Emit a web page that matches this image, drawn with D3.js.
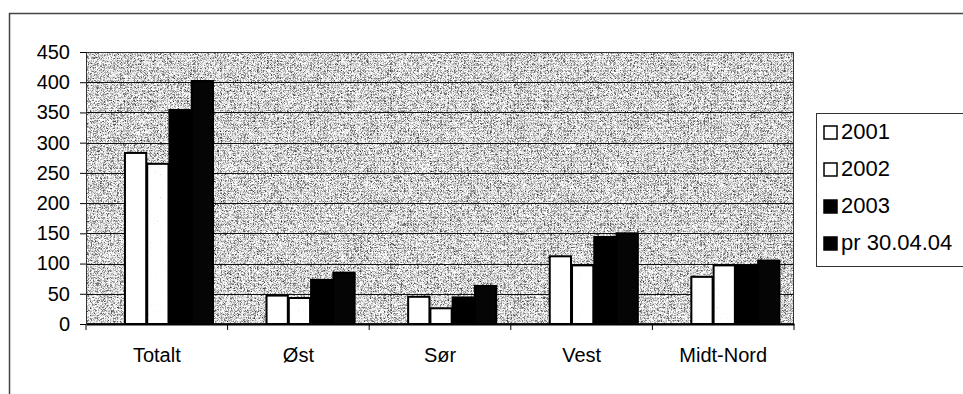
<!DOCTYPE html>
<meta charset="utf-8">
<script src="https://d3js.org/d3.v7.min.js"></script>
<style>
  body { margin: 0; background: #fff; }
  text { font-family: "Liberation Sans", Arial, sans-serif; }
</style>
<div id="my_dataviz"></div>
<script>

// data
var categories = ["Totalt", "Øst", "Sør", "Vest", "Midt-Nord"];
var series = ["2001", "2002", "2003", "pr 30.04.04"];
var v2001 = [283, 47, 45, 112, 78];
var v2002 = [265, 43, 26, 97, 97];
var v2003 = [354, 73, 44, 144, 97];
var vPr   = [402, 85, 63, 150, 105];
var yTicks = [0, 50, 100, 150, 200, 250, 300, 350, 400, 450];

var values = [v2001, v2002, v2003, vPr];

var width = 963, height = 394;
var plot = {left: 86, right: 794, top: 52, bottom: 324};

var svg = d3.select("#my_dataviz")
  .append("svg")
    .attr("width", width)
    .attr("height", height);

// pixel stipple texture for the plot area
var defs = svg.append("defs");
var f = defs.append("filter").attr("id", "stipple")
  .attr("x", 0).attr("y", 0).attr("width", 1).attr("height", 1)
  .attr("color-interpolation-filters", "sRGB");
f.append("feTurbulence").attr("type", "turbulence")
  .attr("baseFrequency", 1.3).attr("numOctaves", 2).attr("seed", 3).attr("result", "n");
f.append("feColorMatrix").attr("type", "matrix").attr("in", "n")
  .attr("values", "0 0 0 1 0  0 0 0 1 0  0 0 0 1 0  0 0 0 0 1").attr("result", "g");
var ct = f.append("feComponentTransfer").attr("in", "g");
["feFuncR", "feFuncG", "feFuncB"].forEach(function(k) {
  ct.append(k).attr("type", "discrete").attr("tableValues", "1 0.88 0.68 0.48 0.3 0.15 0.05");
});

// light speckle for the 2002 bars
var f2 = defs.append("filter").attr("id", "speck")
  .attr("x", 0).attr("y", 0).attr("width", 1).attr("height", 1)
  .attr("color-interpolation-filters", "sRGB");
f2.append("feTurbulence").attr("type", "turbulence")
  .attr("baseFrequency", 1.3).attr("numOctaves", 2).attr("seed", 9).attr("result", "n");
f2.append("feColorMatrix").attr("type", "matrix").attr("in", "n")
  .attr("values", "0 0 0 1 0  0 0 0 1 0  0 0 0 1 0  0 0 0 0 1").attr("result", "g");
var ct2 = f2.append("feComponentTransfer").attr("in", "g");
["feFuncR", "feFuncG", "feFuncB"].forEach(function(k) {
  ct2.append(k).attr("type", "discrete").attr("tableValues", "1 1 1 1 0.96 0.85 0.7");
});

// outer chart frame
svg.append("path")
  .attr("d", "M9.5," + height + "V13.5H" + width)
  .attr("fill", "none").attr("stroke", "#444").attr("stroke-width", 1.5);

// scales
var x0 = d3.scaleBand().domain(categories).range([plot.left, plot.right]);
var x1 = d3.scaleBand().domain(series)
  .range([x0.bandwidth() * 0.268, x0.bandwidth() * 0.897]);
var y = d3.scaleLinear().domain([0, 450]).range([plot.bottom, plot.top]);

// plot background
svg.append("rect")
  .attr("x", plot.left).attr("y", plot.top)
  .attr("width", plot.right - plot.left).attr("height", plot.bottom - plot.top)
  .attr("fill", "#999")
  .attr("filter", "url(#stipple)");

// gridlines
svg.append("g").selectAll("line")
  .data(yTicks.filter(function(d) { return d > 0; }))
  .enter().append("line")
    .attr("x1", plot.left).attr("x2", plot.right)
    .attr("y1", function(d) { return Math.round(y(d)) + 0.5; })
    .attr("y2", function(d) { return Math.round(y(d)) + 0.5; })
    .attr("stroke", "#111").attr("stroke-width", 1.2);

// plot border
svg.append("rect")
  .attr("x", plot.left + 0.5).attr("y", plot.top + 0.5)
  .attr("width", plot.right - plot.left - 1).attr("height", plot.bottom - plot.top - 1)
  .attr("fill", "none").attr("stroke", "#333").attr("stroke-width", 1);

// y axis
var yAxis = svg.append("g")
  .attr("transform", "translate(" + plot.left + ",0)")
  .call(d3.axisLeft(y).tickValues(yTicks).tickSize(6).tickPadding(10));
yAxis.select(".domain").remove();
yAxis.selectAll("line").attr("stroke", "#000");
yAxis.selectAll("text")
  .attr("font-size", 20).attr("fill", "#000")
  .attr("font-family", "'Liberation Sans', Arial, sans-serif");

// x axis
var xAxis = svg.append("g")
  .attr("transform", "translate(0," + plot.bottom + ")")
  .call(d3.axisBottom(x0).tickSize(0).tickPadding(24));
xAxis.select(".domain").attr("stroke", "#000").attr("stroke-width", 2);
xAxis.selectAll("text")
  .attr("font-size", 20).attr("fill", "#000")
  .attr("font-family", "'Liberation Sans', Arial, sans-serif");
svg.append("g").selectAll("line")
  .data(categories.concat(["end"]))
  .enter().append("line")
    .attr("x1", function(d, i) { return i < categories.length ? x0(d) : plot.right; })
    .attr("x2", function(d, i) { return i < categories.length ? x0(d) : plot.right; })
    .attr("y1", plot.bottom).attr("y2", plot.bottom + 6)
    .attr("stroke", "#000");

// bars
var fills = ["#ffffff", "#fbfbfb", "#000000", "#050505"];
var rows = [];
categories.forEach(function(c, i) {
  series.forEach(function(s, j) {
    rows.push({cat: c, ser: s, idx: j, val: values[j][i]});
  });
});

svg.append("g").selectAll("rect")
  .data(rows)
  .enter().append("rect")
    .attr("x", function(d) { return x0(d.cat) + x1(d.ser) + 1; })
    .attr("y", function(d) { return y(d.val); })
    .attr("width", x1.bandwidth() - 1)
    .attr("height", function(d) { return y(0) - y(d.val); })
    .attr("fill", function(d) { return fills[d.idx]; })
    .attr("filter", function(d) { return d.idx === 1 ? "url(#speck)" : null; });

svg.append("g").selectAll("rect")
  .data(rows)
  .enter().append("rect")
    .attr("x", function(d) { return x0(d.cat) + x1(d.ser) + 1; })
    .attr("y", function(d) { return y(d.val); })
    .attr("width", x1.bandwidth() - 1)
    .attr("height", function(d) { return y(0) - y(d.val); })
    .attr("fill", "none")
    .attr("stroke", "#000").attr("stroke-width", 2);

// legend
var legend = svg.append("g").attr("transform", "translate(816,113)");
legend.append("rect")
  .attr("x", 0.5).attr("y", 0.5).attr("width", 160).attr("height", 153)
  .attr("fill", "#fff").attr("stroke", "#333").attr("stroke-width", 1);

var legendFill = ["#fff", "#fff", "#000", "#000"];
var item = legend.selectAll(".item")
  .data(series)
  .enter().append("g")
    .attr("class", "item")
    .attr("transform", function(d, i) { return "translate(0," + (26 + i * 37) + ")"; });
item.append("rect")
  .attr("x", 8).attr("y", -13).attr("width", 13).attr("height", 13)
  .attr("fill", function(d, i) { return legendFill[i]; })
  .attr("stroke", "#000").attr("stroke-width", 1.5);
item.append("text")
  .attr("x", 25).attr("y", 0)
  .attr("font-size", 22).attr("fill", "#000")
  .text(function(d) { return d; });

</script>
